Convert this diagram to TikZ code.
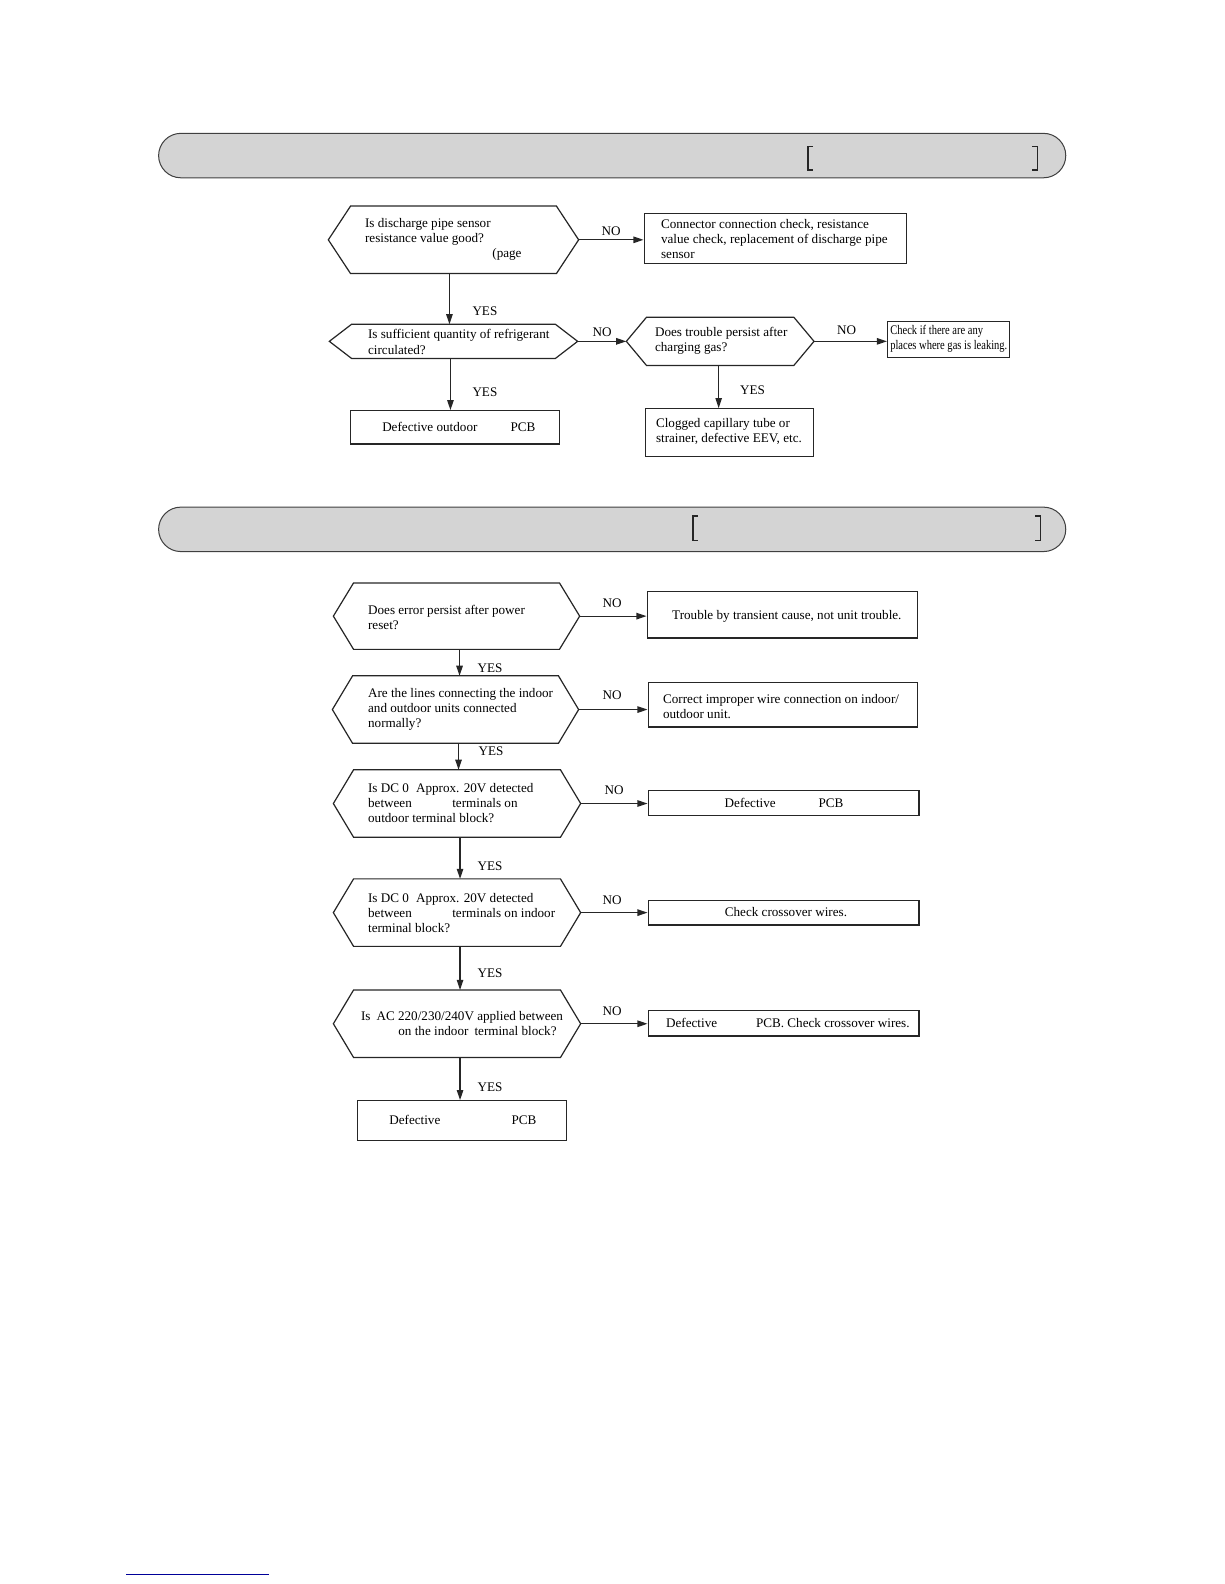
\documentclass[tikz,border=0pt]{standalone}
\usepackage{fontspec}
\setmainfont{Liberation Serif}
\usetikzlibrary{arrows.meta,calc}
\newcommand\hexof[2]{%
  \draw[shp] (#1.west) -- ([xshift=#2]#1.north west) -- ([xshift=-#2]#1.north east) -- (#1.east) -- ([xshift=-#2]#1.south east) -- ([xshift=#2]#1.south west) -- cycle;}
\begin{document}
\begin{tikzpicture}[x=0.5pt,y=-0.5pt,
  shp/.style={line width=0.6pt, draw=black!85},
  arr/.style={line width=0.6pt, draw=black!85, -{Triangle[length=5pt,width=3.2pt]}},
  box/.style={draw=black!85, line width=0.6pt, rectangle, inner sep=0pt, anchor=north west},
  area/.style={draw=none, rectangle, inner sep=0pt, anchor=north west},
  txt/.style={font=\fontsize{6.5}{7.5}\selectfont, inner sep=0pt, anchor=west, align=left},
  lab/.style={font=\fontsize{6.5}{7.5}\selectfont, inner sep=0pt, anchor=center},
  banner/.style={draw=black!75, line width=0.5pt, fill=black!17, rounded corners=11pt},
  brk/.style={line width=0.9pt, draw=black!85}]
\useasboundingbox (0,0) rectangle (1212,1568);

% ---------- banners ----------
\draw[banner] (157,132) rectangle (1055,176);
\draw[brk] (805,145) -- (800,145) -- (800,168) -- (805,168);
\draw[brk] (1022,145) -- (1027,145) -- (1027,168) -- (1022,168);
\draw[banner] (157,502) rectangle (1055,546);
\draw[brk] (691,511) -- (686,511) -- (686,535) -- (691,535);
\draw[brk] (1025,511) -- (1030,511) -- (1030,535) -- (1025,535);

% ---------- section 1 ----------
\node[area, minimum width=123.5pt, minimum height=33pt] (d1) at (325,204) {};
\hexof{d1}{11pt}
\node[box, minimum width=130pt, minimum height=24.5pt] (b1) at (637,211) {};
\node[area, minimum width=122.5pt, minimum height=16.5pt] (d2) at (326,321) {};
\hexof{d2}{11pt}
\node[area, minimum width=92.5pt, minimum height=23.5pt] (d3) at (620,314) {};
\hexof{d3}{10pt}
\node[box, minimum width=60.5pt, minimum height=17.5pt] (b3) at (878,318) {};
\node[box, minimum width=103.5pt, minimum height=16.5pt] (b2) at (346,406) {};
\node[box, minimum width=83.5pt, minimum height=23.5pt] (b4) at (638,404) {};

\node[txt] (t-d1) at (361,237) {Is discharge pipe sensor\\resistance value good?\\\hspace*{63pt}(page};
\node[txt] (t-b1) at (654,236.5) {Connector connection check, resistance\\value check, replacement of discharge pipe\\sensor};
\node[txt] (t-d2) at (364,338.5) {Is sufficient quantity of refrigerant\\circulated?};
\node[txt] (t-d3) at (648,337.5) {Does trouble persist after\\charging gas?};
\node[txt, xscale=0.8] (t-b3) at (881,335) {Check if there are any\\places where gas is leaking.};
\node[txt] (t-b2a) at (378,423) {Defective outdoor};
\node[txt] (t-b2b) at (505,423) {PCB};
\node[txt] (t-b4) at (649,427.5) {Clogged capillary tube or\\strainer, defective EEV, etc.};

\draw[arr] (d1.east) -- (d1.east -| b1.west);
\draw[arr] ([xshift=-2pt]d1.south) -- ([xshift=-2pt]d1.south |- d2.north);
\draw[arr] (d2.east) -- (d2.east -| d3.west);
\draw[arr] (d3.east) -- (d3.east -| b3.west);
\draw[arr] ([xshift=-1.5pt]d2.south) -- ([xshift=-1.5pt]d2.south |- b2.north);
\draw[arr] ([xshift=-0.75pt]d3.south) -- ([xshift=-0.75pt]d3.south |- b4.north);

\node[lab] (n1) at (605,229) {NO};
\node[lab] (y1) at (480,308) {YES};
\node[lab] (n2) at (596,329) {NO};
\node[lab] (n3) at (838,327) {NO};
\node[lab] (y2) at (480,388) {YES};
\node[lab] (y3) at (745,386) {YES};

% ---------- section 2 ----------
\node[area, minimum width=121.5pt, minimum height=32.5pt] (e1) at (330,577) {};
\hexof{e1}{10pt}
\node[box, minimum width=134pt, minimum height=23pt] (c1) at (640,585) {};
\node[area, minimum width=121.5pt, minimum height=33pt] (e2) at (329,669) {};
\hexof{e2}{10pt}
\node[box, minimum width=133.5pt, minimum height=22pt] (c2) at (641,675) {};
\node[area, minimum width=122pt, minimum height=33pt] (e3) at (330,762) {};
\hexof{e3}{10pt}
\node[box, minimum width=134pt, minimum height=12.5pt] (c3) at (641,782) {};
\node[area, minimum width=122pt, minimum height=33pt] (e4) at (330,870) {};
\hexof{e4}{10pt}
\node[box, minimum width=134pt, minimum height=12pt] (c4) at (641,891) {};
\node[area, minimum width=122pt, minimum height=33pt] (e5) at (330,980) {};
\hexof{e5}{10pt}
\node[box, minimum width=134pt, minimum height=12.5pt] (c5) at (641,1000) {};
\node[box, minimum width=103.5pt, minimum height=19.5pt] (c6) at (353,1089) {};

\node[txt] (t-e1) at (364,611.5) {Does error persist after power\\reset?};
\node[txt] (t-c1) at (665,610) {Trouble by transient cause, not unit trouble.};
\node[txt] (t-e2) at (364,702) {Are the lines connecting the indoor\\and outdoor units connected\\normally?};
\node[txt] (t-c2) at (656,699.5) {Correct improper wire connection on indoor/\\outdoor unit.};
\node[txt] (t-e3) at (364,795) {Is DC 0\hspace{3.5pt}Approx. 20V detected\\between\hspace{20pt}terminals on\\outdoor terminal block?};
\node[txt] (t-c3a) at (717,795) {Defective};
\node[txt] (t-c3b) at (810,795) {PCB};
\node[txt] (t-e4) at (364,904) {Is DC 0\hspace{3.5pt}Approx. 20V detected\\between\hspace{20pt}terminals on indoor\\terminal block?};
\node[lab] (t-c4) at (778,903) {Check crossover wires.};
\node[txt] (t-e5) at (357,1013) {Is\hspace{3pt}AC 220/230/240V applied between\\\hspace*{18.5pt}on the indoor\hspace{3pt}terminal block?};
\node[txt] (t-c5a) at (659,1012.5) {Defective};
\node[txt] (t-c5b) at (748,1012.5) {PCB. Check crossover wires.};
\node[txt] (t-c6a) at (385,1108.5) {Defective};
\node[txt] (t-c6b) at (506,1108.5) {PCB};

\draw[arr] (e1.east) -- (e1.east -| c1.west);
\draw[arr] ([xshift=1.5pt]e1.south) -- ([xshift=1.5pt]e1.south |- e2.north);
\draw[arr] (e2.east) -- (e2.east -| c2.west);
\draw[arr] ([xshift=1.5pt]e2.south) -- ([xshift=1.5pt]e2.south |- e3.north);
\draw[arr] (e3.east) -- (e3.east -| c3.west);
\draw[arr] ([xshift=1.5pt]e3.south) -- ([xshift=1.5pt]e3.south |- e4.north);
\draw[arr] (e4.east) -- (e4.east -| c4.west);
\draw[arr] ([xshift=1.5pt]e4.south) -- ([xshift=1.5pt]e4.south |- e5.north);
\draw[arr] (e5.east) -- (e5.east -| c5.west);
\draw[arr] ([xshift=1.5pt]e5.south) -- ([xshift=1.5pt]e5.south |- c6.north);

\node[lab] (n4) at (606,597) {NO};
\node[lab] (y4) at (485,661) {YES};
\node[lab] (n5) at (606,688) {NO};
\node[lab] (y5) at (486,744) {YES};
\node[lab] (n6) at (608,782) {NO};
\node[lab] (y6) at (485,857) {YES};
\node[lab] (n7) at (606,891) {NO};
\node[lab] (y7) at (485,963) {YES};
\node[lab] (n8) at (606,1001) {NO};
\node[lab] (y8) at (485,1076) {YES};

% footer rule
\draw[line width=0.4pt, draw=blue!60!black] (125,1558) -- (266,1558);
\end{tikzpicture}
\end{document}
